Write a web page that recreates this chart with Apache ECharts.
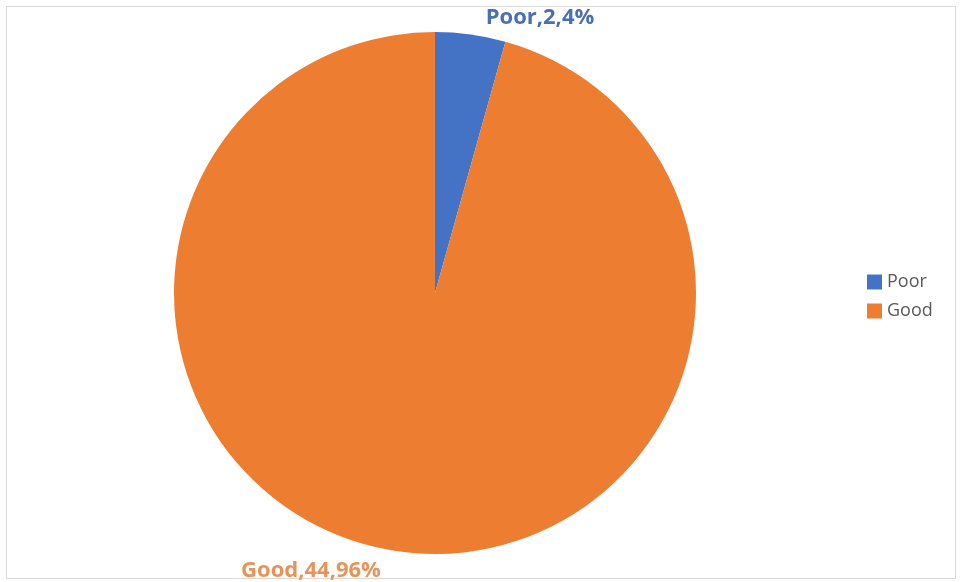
<!DOCTYPE html>
<html>
<head>
<meta charset="utf-8">
<script src="https://cdn.jsdelivr.net/npm/echarts@6/dist/echarts.min.js"></script>
<style>html,body{margin:0;padding:0;background:#fff}#c{width:964px;height:582px}</style>
</head>
<body>
<div id="c"></div>
<script>
const categories = ['Poor', 'Good'];
const values = [2, 44];
const colors = ['#4472C4', '#ED7D31'];
const labelColors = ['#4A6FB5', '#E8935A'];

const total = values.reduce((a, b) => a + b, 0);
const chart = echarts.init(document.getElementById('c'));
chart.setOption({
  backgroundColor: '#fff',
  animation: false,
  graphic: [{
    type: 'rect', shape: { x: 6.5, y: 6.5, width: 949, height: 572 },
    style: { fill: 'none', stroke: '#D9D9D9', lineWidth: 1 }, silent: true
  }],
  legend: {
    orient: 'vertical', left: 862, top: 268,
    icon: 'rect', itemWidth: 15, itemHeight: 15, itemGap: 11,
    textStyle: { fontSize: 18, color: '#595959', fontFamily: 'Open Sans' },
    data: categories
  },
  series: [{
    type: 'pie',
    center: [435, 293],
    radius: 261,
    startAngle: 90,
    clockwise: true,
    data: categories.map((c, i) => ({
      name: c, value: values[i],
      itemStyle: { color: colors[i] },
      label: { color: labelColors[i] }
    })),
    label: {
      show: true, position: 'outside',
      fontSize: 22, fontWeight: 'bold', fontFamily: 'Open Sans',
      formatter: p => p.name + ',' + p.value + ',' + Math.round(p.value / total * 100) + '%'
    },
    labelLine: { show: false },
    labelLayout: function (params) {
      return params.dataIndex === 0
        ? { x: 540, y: 18, align: 'center', verticalAlign: 'middle' }
        : { x: 311, y: 571, align: 'center', verticalAlign: 'middle' };
    }
  }]
});
</script>
</body>
</html>
